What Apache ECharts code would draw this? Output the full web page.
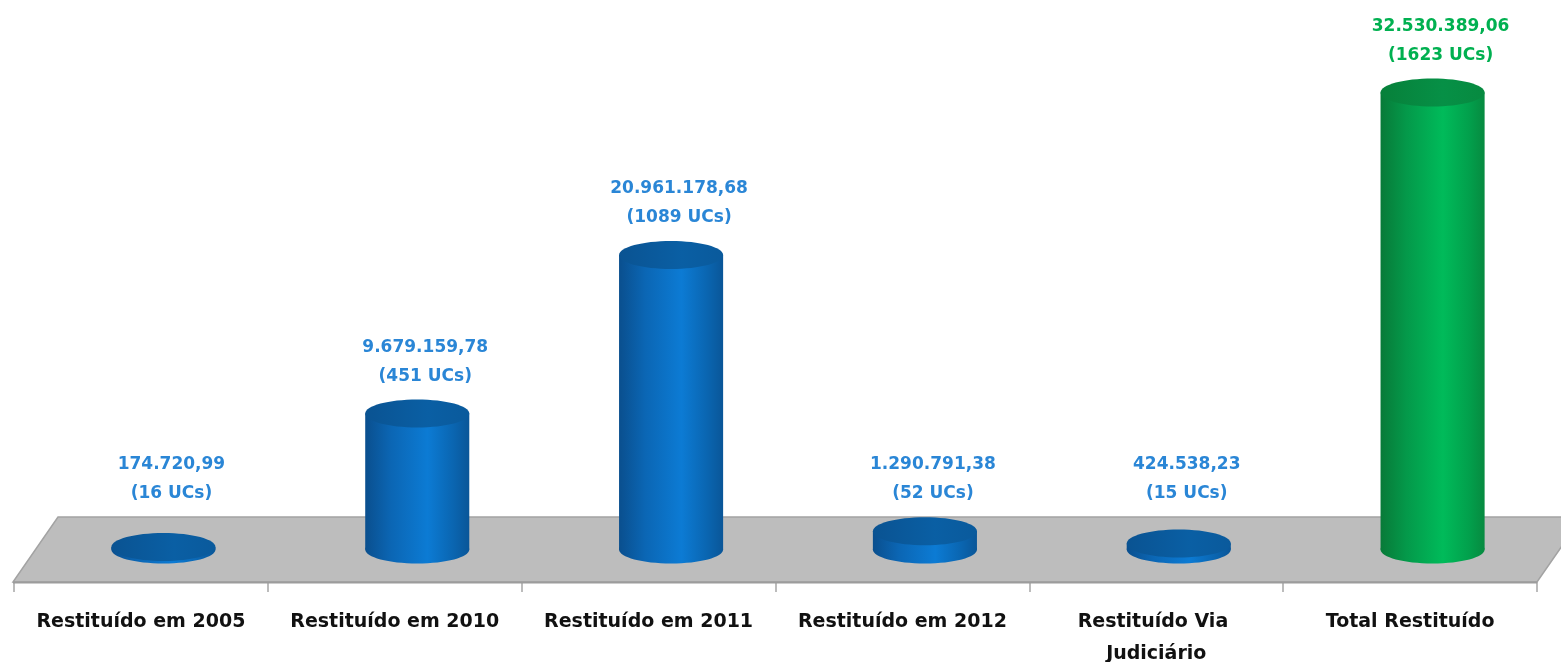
<!DOCTYPE html>
<html>
<head>
<meta charset="utf-8">
<script src="https://cdn.jsdelivr.net/npm/echarts@6/dist/echarts.min.js"></script>
<style>
html,body{margin:0;padding:0;background:#fff;}
#chart{width:1561px;height:662px;}
</style>
</head>
<body>
<div id="chart"></div>
<script>
const categories = ['Restituído em 2005', 'Restituído em 2010', 'Restituído em 2011', 'Restituído em 2012', 'Restituído Via Judiciário', 'Total Restituído'];
const values = [174720.99, 9679159.78, 20961178.68, 1290791.38, 424538.23, 32530389.06];
const ucs = [16, 451, 1089, 52, 15, 1623];
const isTotal = [false, false, false, false, false, true];

const DEPTH_X = 45, DEPTH_Y = 65;

function fmtBR(v) {
  const parts = v.toFixed(2).split('.');
  const intPart = parts[0].replace(/\B(?=(\d{3})+(?!\d))/g, '.');
  return intPart + ',' + parts[1];
}

const palettes = {
  blue: {
    body: [[0, '#0a4f8e'], [0.25, '#0b66b4'], [0.6, '#0c7bd4'], [0.85, '#0a65b0'], [1, '#0a5698']],
    top: [[0, '#0a5392'], [0.6, '#0a5fa4'], [1, '#0a5a9c']],
    label: '#2a86d6'
  },
  green: {
    body: [[0, '#087a38'], [0.25, '#04994a'], [0.6, '#00bb5a'], [0.85, '#02a04c'], [1, '#078a40']],
    top: [[0, '#07803a'], [0.6, '#069046'], [1, '#078a40']],
    label: '#00b050'
  }
};

const chart = echarts.init(document.getElementById('chart'));

function grad(stops) {
  return { type: 'linear', x: 0, y: 0, x2: 1, y2: 0, colorStops: stops.map(s => ({ offset: s[0], color: s[1] })) };
}

function renderFloor(params, api) {
  const cs = params.coordSys;
  const fy = cs.y + cs.height;
  const x0 = cs.x - 1, x1 = cs.x + cs.width;
  return {
    type: 'group',
    silent: true,
    children: [{
      type: 'polygon',
      shape: { points: [[x0, fy], [x1, fy], [x1 + DEPTH_X, fy - DEPTH_Y], [x0 + DEPTH_X, fy - DEPTH_Y]] },
      style: { fill: '#bdbdbd', stroke: '#a3a3a3', lineWidth: 1.5 }
    }, {
      type: 'line',
      shape: { x1: x0, y1: fy + 0.5, x2: x1, y2: fy + 0.5 },
      style: { stroke: '#9c9c9c', lineWidth: 2 }
    }]
  };
}

function renderCyl(params, api) {
  const i = api.value(0);
  const v = api.value(1);
  const base = api.coord([i, 0]);
  const top = api.coord([i, v]);
  const cx = base[0] + DEPTH_X / 2;
  const by = base[1] - DEPTH_Y / 2;
  const ty = top[1] - DEPTH_Y / 2;
  const bw = api.size([1, 0])[0];
  const rx = bw * 0.205;
  const ry = 14;
  const pal = isTotal[i] ? palettes.green : palettes.blue;
  const bodyFill = grad(pal.body);
  const floorBack = base[1] - DEPTH_Y;
  const ref = Math.min(ty - ry, floorBack);
  const l2 = ref - 23;
  const l1 = l2 - 29;
  const txtStyle = (t, y) => ({
    type: 'text',
    style: {
      text: t, x: cx + 8, y: y, align: 'center', verticalAlign: 'middle',
      fill: pal.label, font: 'bold 17px "DejaVu Sans"'
    }
  });
  return {
    type: 'group',
    children: [
      { type: 'ellipse', shape: { cx: cx, cy: by, rx: rx, ry: ry }, style: { fill: bodyFill } },
      { type: 'rect', shape: { x: cx - rx, y: ty, width: rx * 2, height: Math.max(by - ty, 0) }, style: { fill: bodyFill } },
      { type: 'ellipse', shape: { cx: cx, cy: ty, rx: rx, ry: ry }, style: { fill: grad(pal.top) } },
      txtStyle(fmtBR(values[i]), l1),
      txtStyle('(' + ucs[i] + ' UCs)', l2)
    ]
  };
}

chart.setOption({
  animation: false,
  grid: { left: 14, right: 24, top: 20, bottom: 80, containLabel: false, outerBoundsMode: 'none' },
  xAxis: {
    type: 'category',
    data: categories,
    axisLine: { show: false },
    axisTick: { show: true, length: 10, lineStyle: { color: '#a6a6a6', width: 1.5 } },
    axisLabel: {
      margin: 24,
      interval: 0,
      color: '#111',
      fontFamily: 'DejaVu Sans',
      fontWeight: 'bold',
      fontSize: 19,
      lineHeight: 32,
      width: 240,
      overflow: 'break'
    }
  },
  yAxis: {
    type: 'value', min: 0, max: 40000000, show: false,
    splitLine: { show: false }
  },
  series: [
    {
      type: 'custom',
      renderItem: renderFloor,
      data: [[0, 0]],
      z: 1,
      silent: true
    },
    {
      type: 'custom',
      renderItem: renderCyl,
      data: values.map((v, i) => [i, v]),
      z: 3,
      encode: { x: 0, y: 1 }
    }
  ]
});
</script>
</body>
</html>
